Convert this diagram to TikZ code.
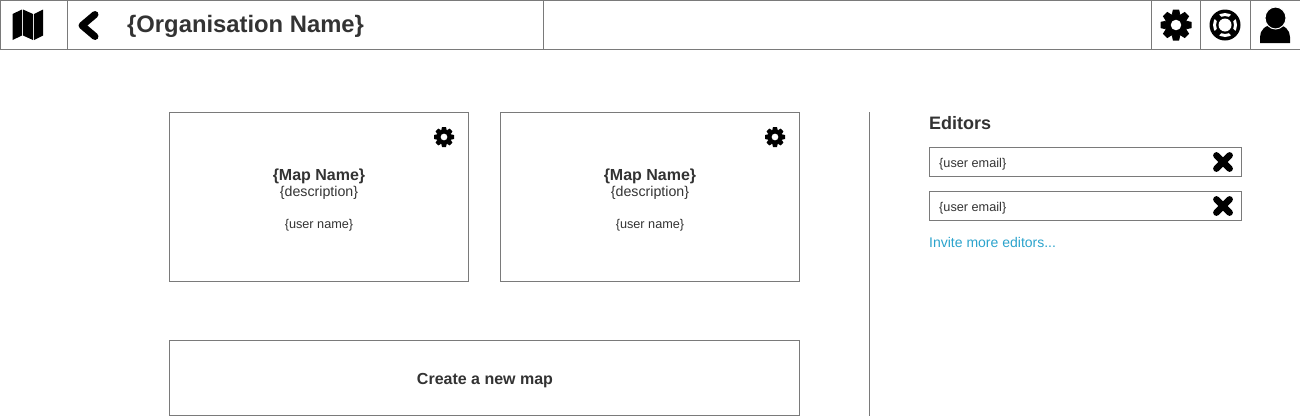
\documentclass[tikz,border=0pt]{standalone}
\usepackage{fontspec}
\setmainfont{Liberation Sans}
\definecolor{linegray}{HTML}{7A7A7A}
\definecolor{textgray}{HTML}{333333}
\definecolor{linkblue}{HTML}{2BA3CC}
\tikzset{
  cellbox/.style={draw=linegray,line width=1pt,anchor=north west,inner sep=0pt,outer sep=0pt},
  headtext/.style={text=textgray,inner sep=0pt,font=\bfseries\fontsize{23.8}{28}\selectfont},
  boldtext/.style={text=textgray,inner sep=0pt,font=\bfseries\fontsize{16}{19}\selectfont},
  desctext/.style={text=textgray,inner sep=0pt,font=\fontsize{14.2}{17}\selectfont},
  smalltext/.style={text=textgray,inner sep=0pt,font=\fontsize{12.7}{15}\selectfont},
  gearicon/.pic={
    \foreach \a in {0,45,...,315}
      \fill[black,rotate=\a] (-.27,.68) -- (-.2,1) -- (.2,1) -- (.27,.68) -- cycle;
    \fill[black,even odd rule] circle (.74) circle (.35);
  },
  crossicon/.pic={
    \draw[black,line width=6.6pt,line cap=round] (-6.6,-6.6) -- (6.6,6.6) (-6.6,6.6) -- (6.6,-6.6);
  }
}
\begin{document}
\begin{tikzpicture}[x=1pt,y=-1pt]
  \useasboundingbox (0,0) rectangle (1300,416);
  % top bar
  \node[cellbox,minimum width=67pt,minimum height=49pt] (mapcell) at (0,0) {};
  \node[cellbox,minimum width=476pt,minimum height=49pt] (namecell) at (67,0) {};
  \node[cellbox,minimum width=608pt,minimum height=49pt] (blankcell) at (543,0) {};
  \node[cellbox,minimum width=49pt,minimum height=49pt] (gearcell) at (1151,0) {};
  \node[cellbox,minimum width=50pt,minimum height=49pt] (helpcell) at (1200,0) {};
  \node[cellbox,minimum width=50pt,minimum height=49pt] (usercell) at (1250,0) {};
  \node[headtext,anchor=west] (orgname) at (127,26.5) {\{Organisation Name\}};
  % map icon
  \fill[black] (12.5,14) -- (22,9.5) -- (22,35.5) -- (12.5,40) -- cycle;
  \fill[black] (23,9.5) -- (33,14) -- (33,40) -- (23,35.5) -- cycle;
  \fill[black] (34,14) -- (43,9.5) -- (43,35.5) -- (34,40) -- cycle;
  % back icon
  \draw[black,line width=7pt,line cap=round,line join=round] (95,14.5) -- (82,25.5) -- (95,36.5);
  % gear and help icons
  \pic[scale=15.5] at (1176,25) {gearicon};
  \fill[black] (1225,25) circle (15.5);
  \fill[white,even odd rule] (1225,25) circle (12) circle (9);
  \foreach \a in {45,135,225,315}
    \draw[black,line width=6pt] (1225,25) ++(\a:8) -- ++(\a:5);
  \fill[white] (1225,25) circle (6.5);
  % user icon
  \fill[black] (1260,43) -- (1260,37) .. controls (1260,30) and (1265,25) .. (1275,24) .. controls (1285,25) and (1290,30) .. (1290,37) -- (1290,43) -- cycle;
  \filldraw[black,draw=white,line width=1pt] (1275.5,18) circle [x radius=10.5,y radius=11];
  % map cards
  \node[cellbox,minimum width=299pt,minimum height=169pt] (cardone) at (169.5,112.5) {};
  \node[cellbox,minimum width=299pt,minimum height=169pt] (cardtwo) at (500.5,112.5) {};
  \pic[scale=10] at (444,137) {gearicon};
  \pic[scale=10] at (775,137) {gearicon};
  \node[boldtext] (mapnameone) at (319,176.5) {\{Map Name\}};
  \node[desctext] (descone) at (319,193) {\{description\}};
  \node[smalltext] (userone) at (319,225) {\{user name\}};
  \node[boldtext] (mapnametwo) at (650,176.5) {\{Map Name\}};
  \node[desctext] (desctwo) at (650,193) {\{description\}};
  \node[smalltext] (usertwo) at (650,225) {\{user name\}};
  \node[cellbox,minimum width=630pt,minimum height=75pt] (newmap) at (169.5,340.5) {};
  \node[boldtext] (newmaptext) at (485,380.5) {Create a new map};
  % divider
  \coordinate (divtop) at (869.5,112);
  \coordinate (divbot) at (869.5,416);
  \draw[linegray,line width=1pt] (divtop) -- (divbot);
  % editors
  \node[text=textgray,inner sep=0pt,anchor=west,font=\bfseries\fontsize{18}{21}\selectfont] (editors) at (929,123) {Editors};
  \node[cellbox,minimum width=312pt,minimum height=29pt] (emailone) at (929.5,147.5) {};
  \node[cellbox,minimum width=312pt,minimum height=29pt] (emailtwo) at (929.5,191.5) {};
  \node[smalltext,anchor=west] (emailtextone) at (939,164) {\{user email\}};
  \node[smalltext,anchor=west] (emailtexttwo) at (939,208) {\{user email\}};
  \pic at (1223,162) {crossicon};
  \pic at (1223,206) {crossicon};
  \node[text=linkblue,inner sep=0pt,anchor=west,font=\fontsize{14}{17}\selectfont] (invite) at (929,242) {Invite more editors...};
\end{tikzpicture}
\end{document}
